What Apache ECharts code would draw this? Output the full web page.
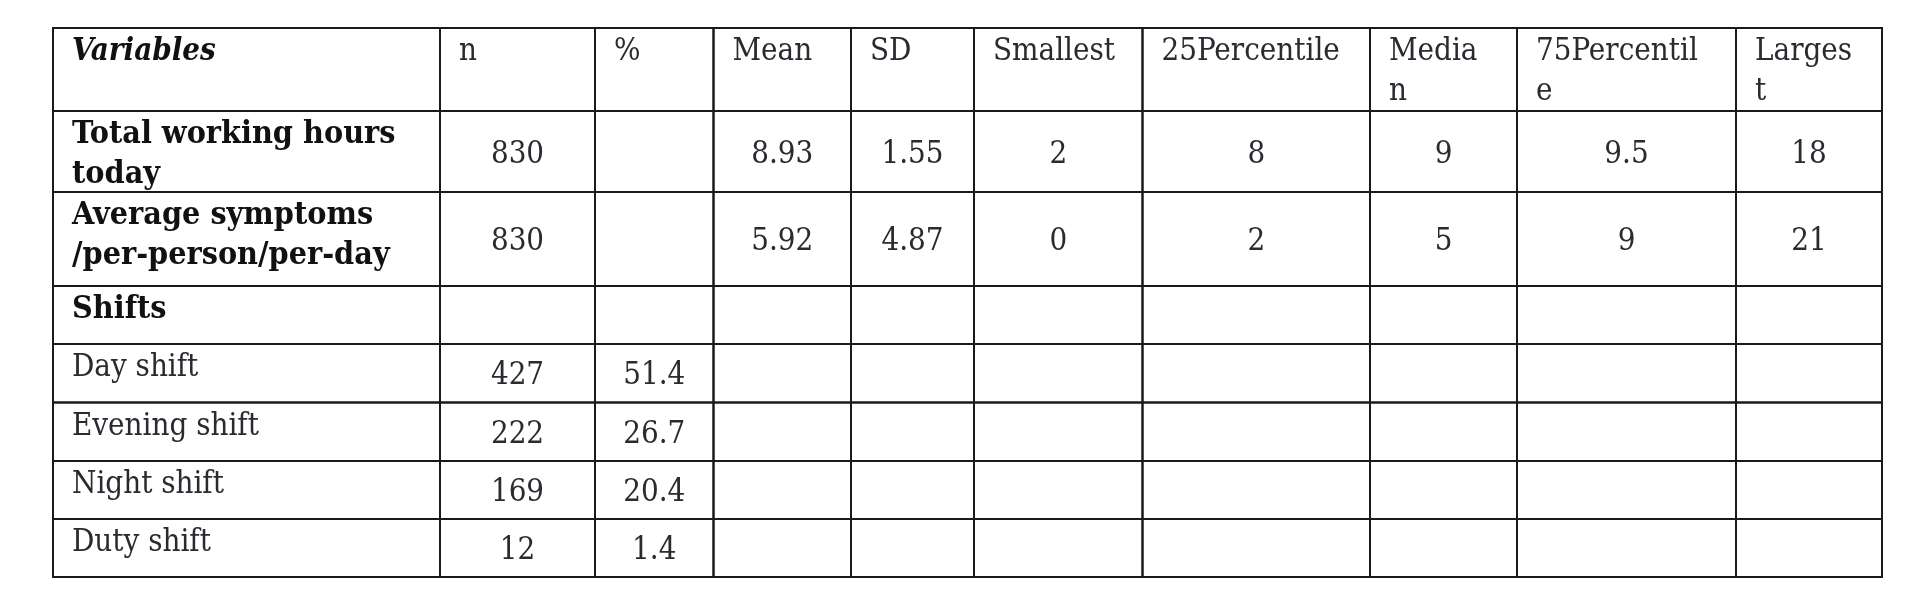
<!DOCTYPE html>
<html>
<head>
<meta charset="utf-8">
<script src="https://cdn.jsdelivr.net/npm/echarts@6/dist/echarts.min.js"></script>
<style>
html,body{margin:0;padding:0;background:#fff;}
#chart{width:1920px;height:600px;}
</style>
</head>
<body>
<div id="chart"></div>
<script>
// ---- table content ----
const headers = ['Variables', 'n', '%', 'Mean', 'SD', 'Smallest', '25Percentile', 'Media\nn', '75Percentil\ne', 'Larges\nt'];
const rowLabels = ['Total working hours\ntoday', 'Average symptoms\n/per-person/per-day', 'Shifts', 'Day shift', 'Evening shift', 'Night shift', 'Duty shift'];
const boldRows = [true, true, true, false, false, false, false];
const nValues = ['830', '830', '', '427', '222', '169', '12'];
const pctValues = ['', '', '', '51.4', '26.7', '20.4', '1.4'];
const meanValues = ['8.93', '5.92', '', '', '', '', ''];
const sdValues = ['1.55', '4.87', '', '', '', '', ''];
const smallestValues = ['2', '0', '', '', '', '', ''];
const p25Values = ['8', '2', '', '', '', '', ''];
const medianValues = ['9', '5', '', '', '', '', ''];
const p75Values = ['9.5', '9', '', '', '', '', ''];
const largestValues = ['18', '21', '', '', '', '', ''];

// ---- layout (not data) ----
const colWidths = [387, 155, 118.5, 137.5, 123, 168.5, 227.5, 147, 219, 146];
const rowHeights = [83, 81, 94, 58, 58.5, 58.5, 58, 58];

const valueCols = [nValues, pctValues, meanValues, sdValues, smallestValues, p25Values, medianValues, p75Values, largestValues];

const colEdges = [0];
colWidths.forEach(w => colEdges.push(colEdges[colEdges.length - 1] + w));
const rowEdges = [0];
rowHeights.forEach(h => rowEdges.push(rowEdges[rowEdges.length - 1] + h));
const totalW = colEdges[colEdges.length - 1];
const totalH = rowEdges[rowEdges.length - 1];

// cells: [x0, y0, x1, y1, row, col]
const cells = [];
for (let r = 0; r < rowHeights.length; r++) {
  for (let c = 0; c < colWidths.length; c++) {
    cells.push([colEdges[c], rowEdges[r], colEdges[c + 1], rowEdges[r + 1], r, c]);
  }
}

function cellText(r, c) {
  if (r === 0) return headers[c];
  if (c === 0) return rowLabels[r - 1];
  const v = valueCols[c - 1][r - 1];
  return v == null ? '' : String(v);
}

const FONT = '"DejaVu Serif Condensed", "DejaVu Serif", "Liberation Serif", serif';
const FS = 31;

const chart = echarts.init(document.getElementById('chart'));
chart.setOption({
  backgroundColor: '#ffffff',
  animation: false,
  grid: { left: 53, top: 28, width: totalW, height: totalH },
  xAxis: { type: 'value', min: 0, max: totalW, show: false },
  yAxis: { type: 'value', min: 0, max: totalH, inverse: true, show: false },
  series: [{
    type: 'custom',
    coordinateSystem: 'cartesian2d',
    data: cells,
    encode: { x: [0, 2], y: [1, 3] },
    renderItem: function (params, api) {
      const p0 = api.coord([api.value(0), api.value(1)]);
      const p1 = api.coord([api.value(2), api.value(3)]);
      const r = api.value(4), c = api.value(5);
      const txt = cellText(r, c);
      const children = [{
        type: 'rect',
        shape: { x: p0[0], y: p0[1], width: p1[0] - p0[0], height: p1[1] - p0[1] },
        style: { fill: 'none', stroke: '#1a1a1a', lineWidth: 2 }
      }];
      if (txt) {
        const isLabel = (r === 0 || c === 0);
        let fontStyle = 'normal', fontWeight = 'normal', fill = '#2a2a30', size = FS;
        if (r === 0 && c === 0) { fontStyle = 'italic'; fontWeight = 'bold'; fill = '#111111'; }
        else if (c === 0 && boldRows[r - 1]) { fontWeight = 'bold'; fill = '#111111'; size = 32; }
        if (isLabel) {
          children.push({
            type: 'text',
            style: {
              text: txt,
              x: p0[0] + 19,
              y: p0[1] + 4,
              fill: fill,
              fontFamily: FONT,
              fontSize: size,
              fontStyle: fontStyle,
              fontWeight: fontWeight,
              lineHeight: 40,
              align: 'left',
              verticalAlign: 'top'
            }
          });
        } else {
          children.push({
            type: 'text',
            style: {
              text: txt,
              x: (p0[0] + p1[0]) / 2,
              y: (p0[1] + p1[1]) / 2 + 3,
              fill: fill,
              fontFamily: FONT,
              fontSize: FS,
              align: 'center',
              verticalAlign: 'middle'
            }
          });
        }
      }
      return { type: 'group', children: children };
    }
  }]
});
</script>
</body>
</html>
